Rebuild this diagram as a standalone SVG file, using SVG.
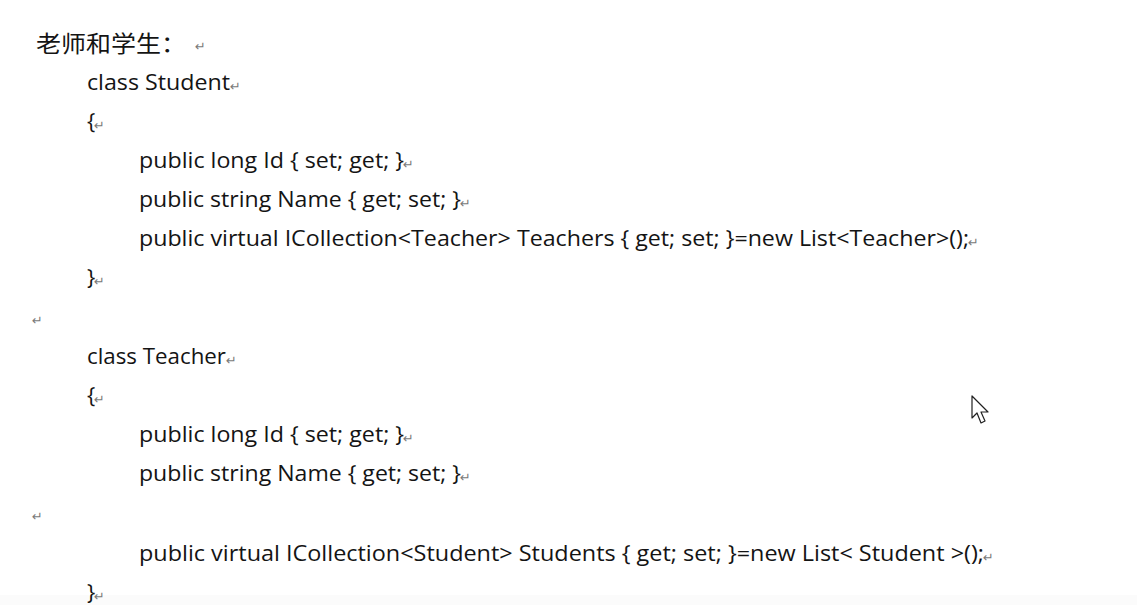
<svg xmlns="http://www.w3.org/2000/svg" width="1137" height="605" viewBox="0 0 1137 605">
<style>
.t{font-family:"Open Sans","Liberation Sans",sans-serif;font-size:22px;fill:#141414;}
.c{font-family:"Noto Sans CJK SC","Noto Sans CJK JP",sans-serif;font-size:23px;fill:#141414;}
.r{font-family:"DejaVu Sans",sans-serif;font-size:13px;fill:#7a7a7a;}
</style>
<rect x="0" y="0" width="1137" height="605" fill="#ffffff"/>
<rect x="0" y="595" width="1137" height="10" fill="#fbfbfb"/>
<text class="c" x="36" y="52" textLength="150" lengthAdjust="spacingAndGlyphs">老师和学生：</text>
<text class="r" x="195" y="51">↵</text>

<text class="t" x="87" y="90" textLength="143" lengthAdjust="spacingAndGlyphs">class Student</text>
<text class="r" x="230" y="91">↵</text>
<text class="t" x="87" y="129">{</text>
<text class="r" x="94" y="130">↵</text>
<text class="t" x="139" y="168" textLength="265" lengthAdjust="spacingAndGlyphs">public long Id { set; get; }</text>
<text class="r" x="403" y="169">↵</text>
<text class="t" x="139" y="207" textLength="322" lengthAdjust="spacingAndGlyphs">public string Name { get; set; }</text>
<text class="r" x="460" y="208">↵</text>
<text class="t" x="139" y="246" textLength="830" lengthAdjust="spacingAndGlyphs">public virtual ICollection&lt;Teacher&gt; Teachers { get; set; }=new List&lt;Teacher&gt;();</text>
<text class="r" x="968" y="247">↵</text>
<text class="t" x="87" y="285">}</text>
<text class="r" x="94" y="286">↵</text>

<text class="r" x="32" y="325">↵</text>

<text class="t" x="87" y="364" textLength="139" lengthAdjust="spacingAndGlyphs">class Teacher</text>
<text class="r" x="226" y="365">↵</text>
<text class="t" x="87" y="403">{</text>
<text class="r" x="94" y="404">↵</text>
<text class="t" x="139" y="442" textLength="265" lengthAdjust="spacingAndGlyphs">public long Id { set; get; }</text>
<text class="r" x="403" y="443">↵</text>
<text class="t" x="139" y="481" textLength="322" lengthAdjust="spacingAndGlyphs">public string Name { get; set; }</text>
<text class="r" x="460" y="482">↵</text>

<text class="r" x="32" y="521">↵</text>

<text class="t" x="139" y="561" textLength="845" lengthAdjust="spacingAndGlyphs">public virtual ICollection&lt;Student&gt; Students { get; set; }=new List&lt; Student &gt;();</text>
<text class="r" x="983" y="562">↵</text>
<text class="t" x="87" y="600">}</text>
<text class="r" x="94" y="601">↵</text>

<path d="M972,396 L972,418 L977,413 L981,423 L985,421 L981,412 L988,412 Z" fill="#ffffff" stroke="#202020" stroke-width="1.2" stroke-linejoin="round"/>
</svg>
